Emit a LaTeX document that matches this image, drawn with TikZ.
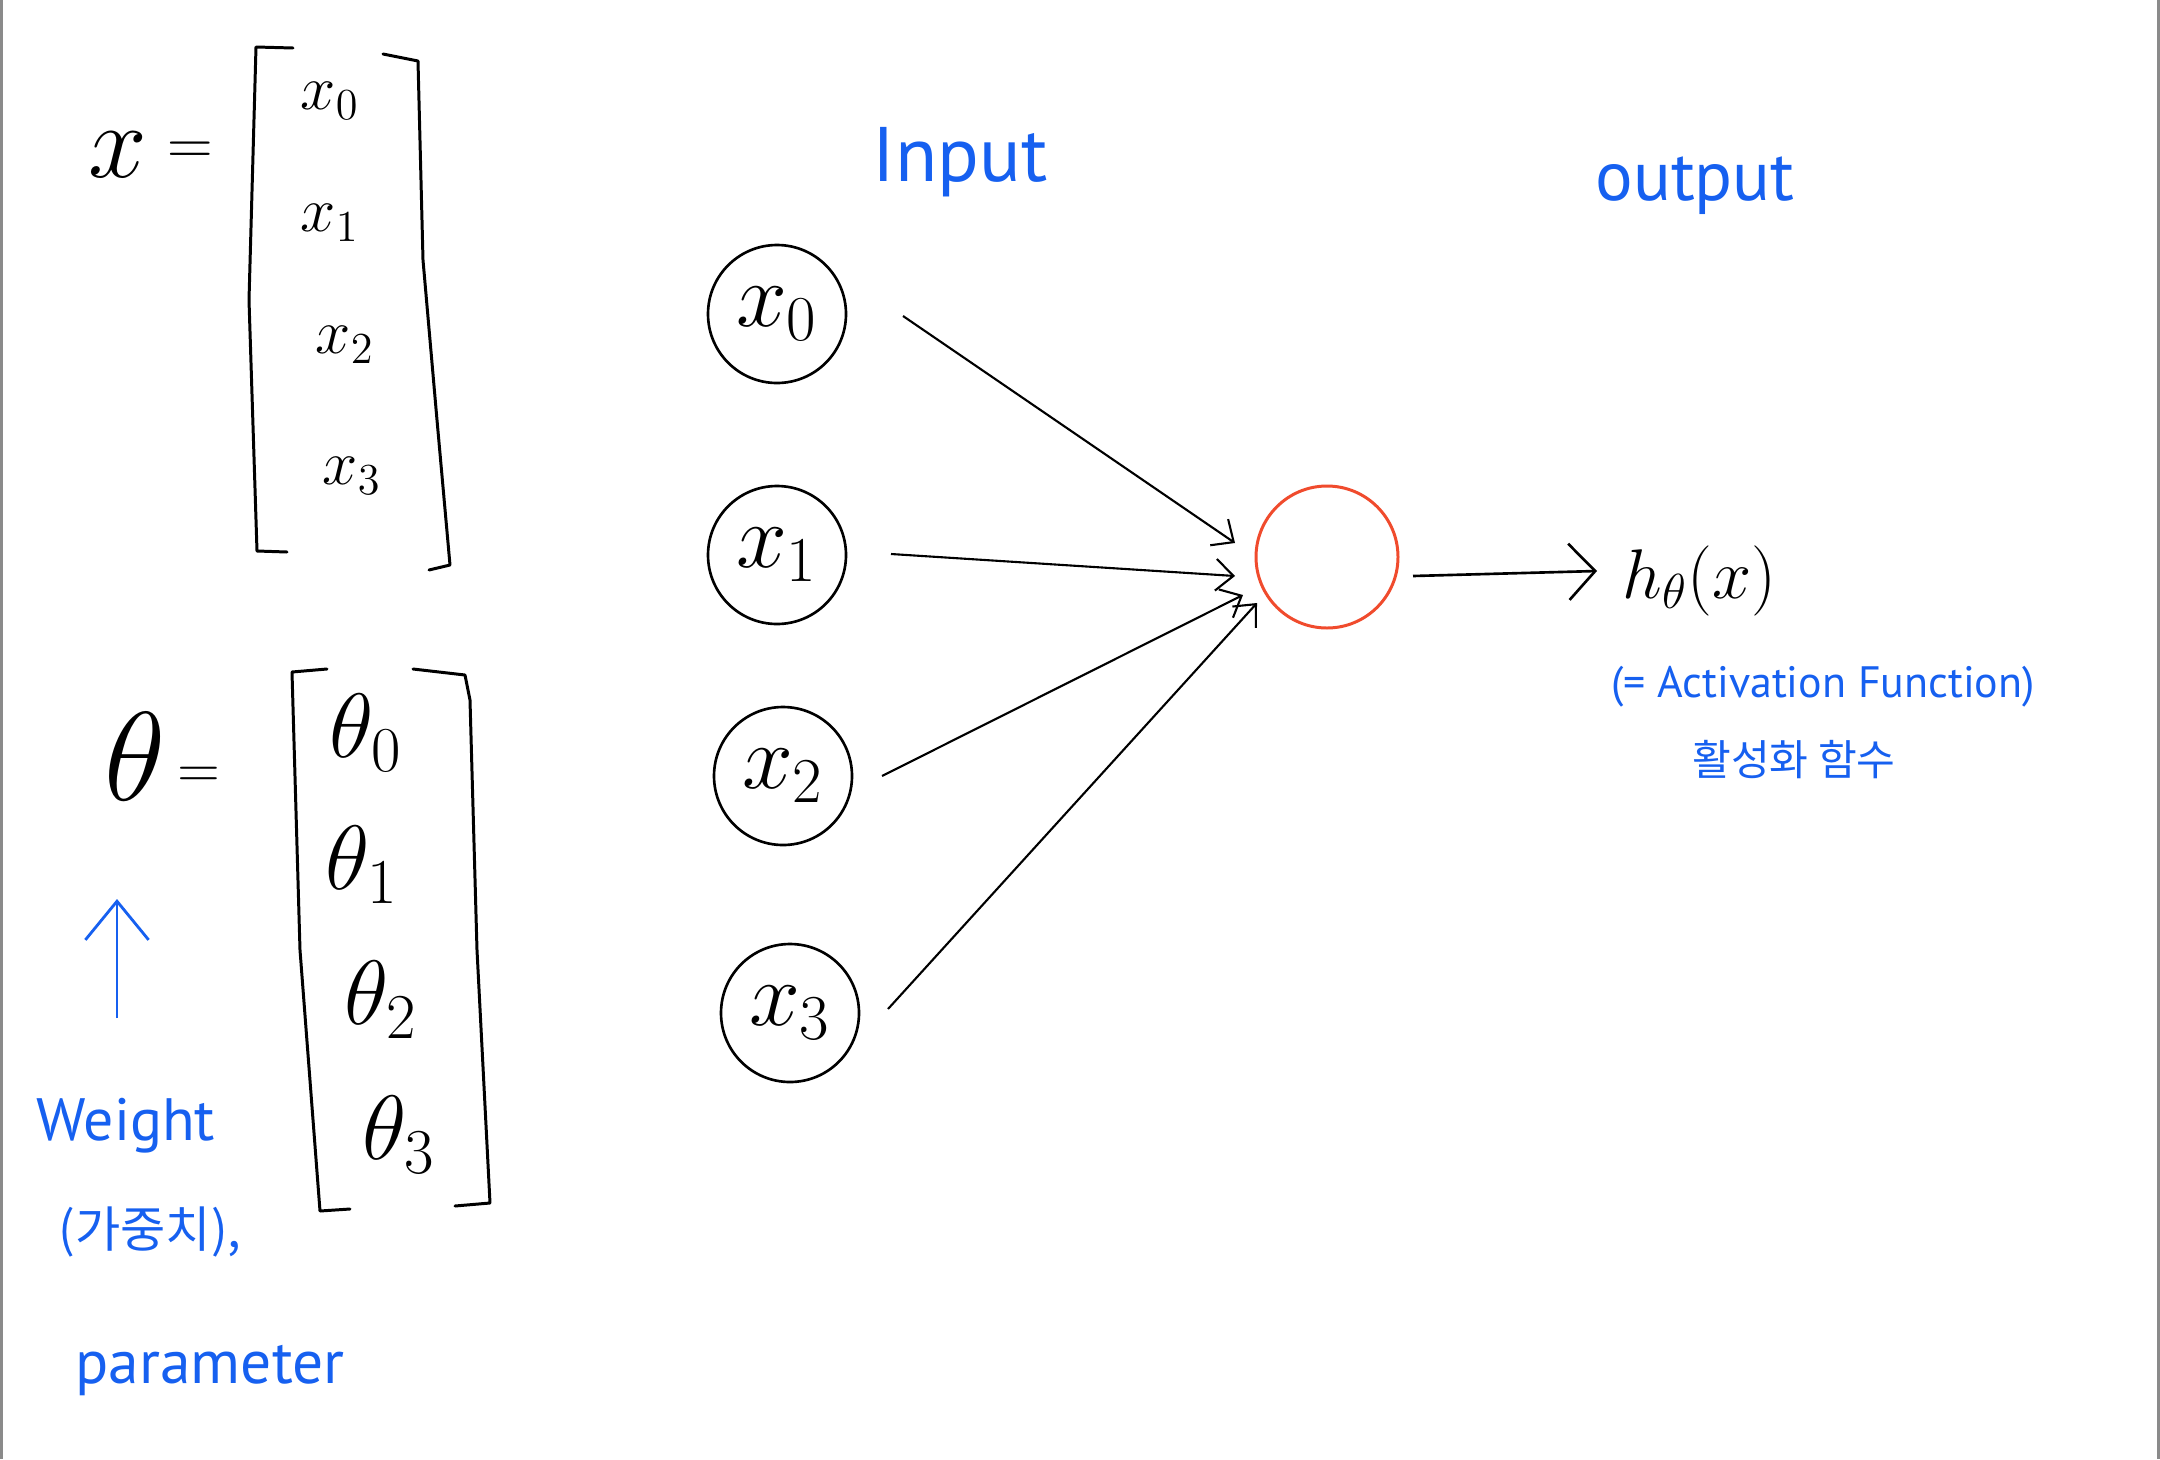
\RequirePackage{fix-cm}
\documentclass[tikz,border=0pt]{standalone}
\usepackage[no-math]{fontspec}
\newfontfamily\hand{PT Sans}
\newfontfamily\kr{Noto Sans CJK KR}
\usetikzlibrary{arrows.meta}
\definecolor{pen}{RGB}{22,96,240}
\definecolor{neuron}{RGB}{240,75,45}
\definecolor{edgegray}{RGB}{138,138,138}
\begin{document}
\begin{tikzpicture}[x=0.1mm,y=-0.1mm,
  inp/.style={draw, circle, line width=0.75pt, minimum size=13.8mm, inner sep=0pt, outer sep=0pt},
  unit/.style={draw=neuron, circle, line width=0.85pt, minimum size=14.2mm, inner sep=0pt, outer sep=0pt},
  wire/.style={line width=0.6pt, -{Straight Barb[length=5pt,width=9pt]}},
  outwire/.style={line width=0.75pt, -{Straight Barb[length=7.5pt,width=16pt]}},
  brk/.style={line width=0.85pt, line join=round, line cap=round},
  note/.style={text=pen, inner sep=0pt},
  mtxt/.style={inner sep=0pt},
]
\useasboundingbox (0,0) rectangle (2160,1459);
\fill[white] (0,0) rectangle (2160,1459);
\fill[edgegray] (0,0) rectangle (3,1459);
\fill[edgegray] (2157,0) rectangle (2160,1459);

% ---- x vector ----
\node[mtxt] (xvec) at (118,155) {\fontsize{30}{34}\selectfont $x$};
\node[mtxt] (xeq) at (190,153) {\fontsize{18}{22}\selectfont $=$};
\node[mtxt] (mx0) at (330,101) {\fontsize{18}{22}\selectfont $x_0$};
\node[mtxt] (mx1) at (330,223) {\fontsize{18}{22}\selectfont $x_1$};
\node[mtxt] (mx2) at (345,345) {\fontsize{18}{22}\selectfont $x_2$};
\node[mtxt] (mx3) at (352,476) {\fontsize{18}{22}\selectfont $x_3$};
\draw[brk] (293,48) -- (256,47) -- (249,300) -- (257,551) -- (287,552);
\draw[brk] (383,54) -- (418,61) -- (423,260) -- (437,420) -- (450,565) -- (429,570);

% ---- theta vector ----
\node[mtxt] (tvec) at (135,757) {\fontsize{36}{40}\selectfont $\theta$};
\node[mtxt] (teq) at (199,777) {\fontsize{16}{20}\selectfont $=$};
\node[mtxt] (mt0) at (366,733) {\fontsize{26}{30}\selectfont $\theta_0$};
\node[mtxt] (mt1) at (362,865) {\fontsize{26}{30}\selectfont $\theta_1$};
\node[mtxt] (mt2) at (381,1000) {\fontsize{26}{30}\selectfont $\theta_2$};
\node[mtxt] (mt3) at (399,1135) {\fontsize{26}{30}\selectfont $\theta_3$};
\draw[brk] (327,669) -- (292,672) -- (300,950) -- (320,1211) -- (350,1209);
\draw[brk] (413,669) -- (465,675) -- (470,700) -- (477,950) -- (490,1203) -- (455,1206);

% ---- weight annotation ----
\coordinate (wfoot) at (117,1018);
\coordinate (whead) at (117,899);
\draw[pen, line width=0.8pt, -{Straight Barb[length=11pt,width=18pt]}] (wfoot) -- (whead);
\node[note, anchor=base] (wlbl) at (126,1140) {\hand\fontsize{17}{21}\selectfont Weight};
\node[note] (kwlbl) at (150,1232) {\kr\fontsize{14}{17}\selectfont (가중치),};
\node[note, anchor=base] (plbl) at (210,1383) {\hand\fontsize{17.5}{21}\selectfont parameter};

% ---- network ----
\node[note, anchor=base] (inlbl) at (960,181) {\hand\fontsize{22}{26}\selectfont Input};
\node[note, anchor=base] (outlbl) at (1695,200) {\hand\fontsize{20}{24}\selectfont output};

\node[inp] (x0) at (777,314) {\fontsize{26}{30}\selectfont $x_0$};
\node[inp] (x1) at (777,555) {\fontsize{26}{30}\selectfont $x_1$};
\node[inp] (x2) at (783,776) {\fontsize{26}{30}\selectfont $x_2$};
\node[inp] (x3) at (790,1013) {\fontsize{26}{30}\selectfont $x_3$};
\node[unit] (h) at (1327,557) {};
\node[mtxt, anchor=base west] (hx) at (1622,598) {\fontsize{20}{24}\selectfont $h_\theta(x)$};

\draw[wire] ([shift={(57,2)}]x0.east) -- ([shift={(-21,-14)}]h.west);
\draw[wire] ([shift={(45,-1)}]x1.east) -- ([shift={(-21,19)}]h.west);
\draw[wire] ([shift={(30,0)}]x2.east) -- ([shift={(-13,38)}]h.west);
\draw[wire] ([shift={(29,-4)}]x3.east) -- ([shift={(1,46)}]h.west);
\draw[outwire] ([shift={(15,19)}]h.east) -- ([shift={(-25,-27)}]hx.base west);

\node[note, anchor=base] (actlbl) at (1823,697) {\hand\fontsize{12.5}{15}\selectfont (= Activation Function)};
\node[note] (krlbl) at (1794,760) {\kr\fontsize{12}{15}\selectfont 활성화 함수};
\end{tikzpicture}
\end{document}
